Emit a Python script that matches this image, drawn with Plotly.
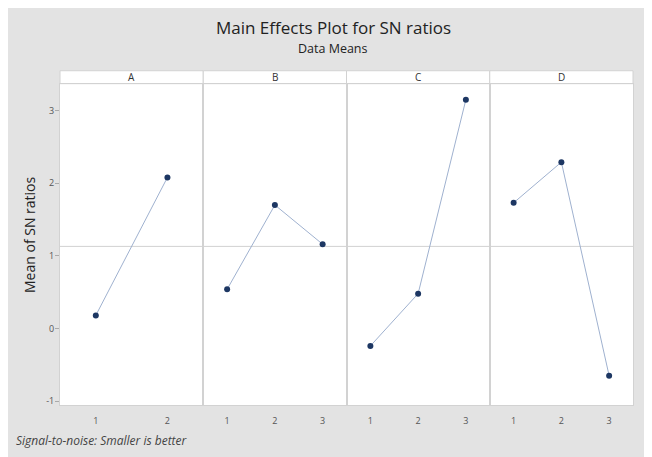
import plotly.graph_objects as go
from plotly.subplots import make_subplots

factors = ["A", "B", "C", "D"]
levels = {
    "A": [1, 2],
    "B": [1, 2, 3],
    "C": [1, 2, 3],
    "D": [1, 2, 3],
}
sn_means = {
    "A": [0.18, 2.08],
    "B": [0.54, 1.70, 1.16],
    "C": [-0.24, 0.48, 3.15],
    "D": [1.73, 2.29, -0.65],
}
grand_mean = 1.13
y_ticks = [-1, 0, 1, 2, 3]

# page body has an 8px default margin; figure sized so it fills the window
OFF = 8
W, H = 652 - OFF, 457 - OFF
def px(x):
    return (x - OFF) / W
def py(y):
    return 1 - (y - OFF) / H

left, right = 60, 633
top, bottom = 84, 407
strip_top = 71
panel_w = (right - left) / 4

fig = make_subplots(rows=1, cols=4, shared_yaxes=True, horizontal_spacing=0)

line_col = "#9fb1cf"
mark_col = "#1d3763"
border_col = "#d2d2d2"
FONT = "Open Sans"

for i, f in enumerate(factors):
    fig.add_trace(go.Scatter(
        x=levels[f], y=sn_means[f], mode="lines+markers",
        line=dict(color=line_col, width=1),
        marker=dict(color=mark_col, size=6),
        showlegend=False, hoverinfo="x+y"), row=1, col=i + 1)
    x0 = left + i * panel_w
    x1 = x0 + panel_w
    n = len(levels[f])
    axname = "xaxis" if i == 0 else f"xaxis{i+1}"
    fig.layout[axname].update(
        domain=[px(x0), px(x1)], range=[0.5, n + 0.5],
        tickvals=levels[f], ticktext=[str(v) for v in levels[f]],
        showgrid=False, zeroline=False, showline=True, mirror=True,
        linecolor=border_col, linewidth=1,
        ticks="outside", ticklen=7, tickcolor="rgba(0,0,0,0)",
        tickfont=dict(size=9, color="#555555", family=FONT),
        fixedrange=True)
    fig.add_annotation(x=px((x0 + x1) / 2), y=py((strip_top + top) / 2), xref="paper", yref="paper",
                       xanchor="center", yanchor="middle",
                       text=f, showarrow=False, font=dict(size=10, color="#333333", family=FONT))
    fig.add_shape(type="rect", xref="paper", yref="paper",
                  x0=px(x0), x1=px(x1), y0=py(top), y1=py(strip_top),
                  fillcolor="white", line=dict(color=border_col, width=1), layer="below")
    fig.add_shape(type="line", xref=f"x{i+1} domain" if i else "x domain", yref="y",
                  x0=0, x1=1, y0=grand_mean, y1=grand_mean,
                  line=dict(color="#d2d2d2", width=1), layer="below")

for i in range(4):
    axname = "yaxis" if i == 0 else f"yaxis{i+1}"
    fig.layout[axname].update(
        domain=[py(bottom), py(top)], range=[-1.056, 3.37],
        showgrid=False, zeroline=False, showline=True, mirror=True,
        linecolor=border_col, linewidth=1, fixedrange=True)

fig.layout.yaxis.update(
    tickvals=y_ticks, ticktext=[str(v) for v in y_ticks],
    ticks="outside", ticklen=4, tickcolor="#aaaaaa",
    ticklabelstandoff=-1,
    tickfont=dict(size=9, color="#555555", family=FONT))

fig.add_annotation(x=px(30), y=py(236), xref="paper", yref="paper", text="Mean of SN ratios",
                   xanchor="center", yanchor="middle",
                   textangle=-90, showarrow=False, font=dict(size=14, color="#222222", family=FONT))
fig.add_annotation(x=px(333), y=py(28), xref="paper", yref="paper", text="Main Effects Plot for SN ratios",
                   xanchor="center", yanchor="middle",
                   showarrow=False, font=dict(size=17, color="#222222", family=FONT))
fig.add_annotation(x=px(333), y=py(49), xref="paper", yref="paper", text="Data Means",
                   xanchor="center", yanchor="middle",
                   showarrow=False, font=dict(size=12.5, color="#222222", family=FONT))
fig.add_annotation(x=px(14), y=py(442), xref="paper", yref="paper", xanchor="left", yanchor="middle",
                   text="<i>Signal-to-noise: Smaller is better</i>",
                   showarrow=False, font=dict(size=12, color="#444444", family=FONT))

fig.update_layout(
    width=W, height=H, margin=dict(l=0, r=0, t=0, b=0),
    paper_bgcolor="#e3e3e3", plot_bgcolor="white",
    font=dict(family=FONT),
)

fig.write_html("out.html")
